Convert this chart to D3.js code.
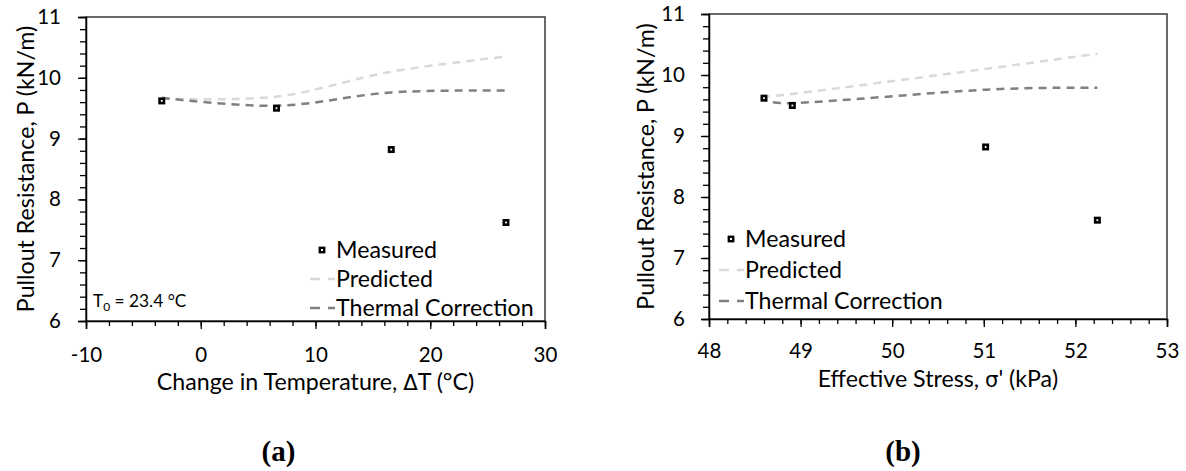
<!DOCTYPE html>
<html>
<head>
<meta charset="utf-8">
<script src="https://cdn.jsdelivr.net/npm/d3@7/dist/d3.min.js"></script>
<style>
  html, body { margin: 0; padding: 0; background: #fff; }
  svg { display: block; }
</style>
</head>
<body>
<svg id="chart" width="1186" height="471"></svg>
<script>
// Pullout tests at 20, 30, 40 and 50 °C (T0 = 23.4 °C)
const deltaT = [-3.4, 6.6, 16.6, 26.6];            // change in temperature, °C
const effStress = [48.6, 48.91, 51.02, 52.24];     // effective stress, kPa
const measured = [9.62, 9.50, 8.82, 7.62];         // kN/m
const predicted = [9.66, 9.69, 10.10, 10.35];      // kN/m
const thermalCorrection = [9.67, 9.54, 9.76, 9.79];// kN/m

const yTicks = [6, 7, 8, 9, 10, 11];
const xTicksA = [-10, 0, 10, 20, 30];
const xTicksB = [48, 49, 50, 51, 52, 53];
const seriesNames = ["Measured", "Predicted", "Thermal Correction"];

const SANS = "Lato, 'Open Sans', sans-serif";
const SERIF = "'Liberation Serif', 'Times New Roman', serif";
const svg = d3.select("#chart");

const panels = [
  {
    x: deltaT, xDomain: [-10, 30], xTicks: xTicksA, xMinor: 2,
    box: { left: 86, right: 545, top: 17, bottom: 321 },
    xTitle: ["Change in Temperature, ", "\u0394", "T (\u00B0C)"],
    yTitleX: 34, xTitleY: 390, tickLabelY: 362, yPad: 17,
    legend: { x: 322, y: 250, step: 29 },
    note: true, tag: "(a)", tagX: 278.5
  },
  {
    x: effStress, xDomain: [48, 53], xTicks: xTicksB, xMinor: 0.2,
    box: { left: 709, right: 1167, top: 14, bottom: 319 },
    xTitle: ["Effective Stress, ", "\u03C3", "' (kPa)"],
    yTitleX: 654, xTitleY: 387, tickLabelY: 358, yPad: 16,
    legend: { x: 731, y: 239, step: 31 },
    note: false, tag: "(b)", tagX: 903
  }
];

const fontTick = 20.5, fontTitle = 23.2, fontLegend = 23.2;
const fmt = d => String(d); // plain hyphen for negatives

panels.forEach(p => {
  const b = p.box;
  const xs = d3.scaleLinear().domain(p.xDomain).range([b.left, b.right]);
  const ys = d3.scaleLinear().domain([6, 11]).range([b.bottom, b.top]);
  const g = svg.append("g").style("font-family", SANS);

  // plot frame
  g.append("rect")
    .attr("x", b.left).attr("y", b.top)
    .attr("width", b.right - b.left).attr("height", b.bottom - b.top)
    .attr("fill", "none").attr("stroke", "#3a3a3a").attr("stroke-width", 1.5);

  // y axis with minor ticks every 0.2
  const yMinor = d3.range(6, 11.0001, 0.2);
  g.append("g").attr("transform", `translate(${b.left},0)`)
    .call(d3.axisLeft(ys).tickValues(yMinor).tickSize(6).tickFormat(""))
    .call(s => s.select(".domain").remove());
  const ya = g.append("g").attr("transform", `translate(${b.left},0)`)
    .call(d3.axisLeft(ys).tickValues(yTicks).tickSize(8).tickFormat(fmt).tickPadding(p.yPad));
  ya.select(".domain").attr("stroke", "#000").attr("stroke-width", 1.5);
  ya.selectAll("text").style("font-size", fontTick + "px").style("font-family", SANS).attr("fill", "#000");

  // x axis
  const xMinorVals = d3.range(p.xDomain[0], p.xDomain[1] + 1e-6, p.xMinor);
  g.append("g").attr("transform", `translate(0,${b.bottom})`)
    .call(d3.axisBottom(xs).tickValues(xMinorVals).tickSize(5).tickFormat(""))
    .call(s => s.select(".domain").remove());
  const xa = g.append("g").attr("transform", `translate(0,${b.bottom})`)
    .call(d3.axisBottom(xs).tickValues(p.xTicks).tickSize(8).tickFormat(fmt));
  xa.select(".domain").attr("stroke", "#000").attr("stroke-width", 1.5);
  xa.selectAll("text").style("font-size", fontTick + "px").style("font-family", SANS).attr("fill", "#000")
    .attr("dy", null).attr("y", p.tickLabelY - b.bottom);
  g.selectAll(".tick line").attr("stroke", "#000").attr("stroke-width", 1.3);

  // axis titles
  const xt = g.append("text")
    .attr("x", (b.left + b.right) / 2).attr("y", p.xTitleY)
    .attr("text-anchor", "middle").style("font-size", fontTitle + "px");
  xt.append("tspan").text(p.xTitle[0]);
  xt.append("tspan").style("font-family", "'DejaVu Sans', sans-serif")
    .style("font-size", (fontTitle - 2) + "px").text(p.xTitle[1]);
  xt.append("tspan").text(p.xTitle[2]);

  g.append("text")
    .attr("transform", `translate(${p.yTitleX},${(b.top + b.bottom) / 2}) rotate(-90)`)
    .attr("text-anchor", "middle").style("font-size", fontTitle + "px")
    .text("Pullout Resistance, P (kN/m)");

  // smoothed model curves
  const idx = d3.range(p.x.length);
  const line = vals => d3.line()
    .x(i => xs(p.x[i])).y(i => ys(vals[i]))
    .curve(d3.curveCardinal.tension(0))(idx);

  g.append("path").attr("d", line(predicted))
    .attr("fill", "none").attr("stroke", "#d9d9d9").attr("stroke-width", 2.5)
    .attr("stroke-dasharray", "8,6");
  g.append("path").attr("d", line(thermalCorrection))
    .attr("fill", "none").attr("stroke", "#808080").attr("stroke-width", 2.5)
    .attr("stroke-dasharray", "8,6");

  // measured points
  g.selectAll("rect.pt").data(idx).join("rect").attr("class", "pt")
    .attr("x", i => xs(p.x[i]) - 2.2).attr("y", i => ys(measured[i]) - 2.2)
    .attr("width", 4.4).attr("height", 4.4)
    .attr("fill", "#fff").attr("stroke", "#000").attr("stroke-width", 2.6);

  // legend
  const L = p.legend;
  const lg = g.append("g");
  lg.append("rect").attr("x", L.x - 2.2).attr("y", L.y - 2.2).attr("width", 4.4).attr("height", 4.4)
    .attr("fill", "#fff").attr("stroke", "#000").attr("stroke-width", 2.4);
  [["#d9d9d9", 1], ["#808080", 2]].forEach(([c, k]) => {
    lg.append("line")
      .attr("x1", L.x - 12).attr("x2", L.x + 13)
      .attr("y1", L.y + k * L.step).attr("y2", L.y + k * L.step)
      .attr("stroke", c).attr("stroke-width", 2.5).attr("stroke-dasharray", "10,8");
  });
  seriesNames.forEach((n, k) => {
    lg.append("text").attr("x", L.x + 14).attr("y", L.y + k * L.step)
      .attr("dy", "0.35em").style("font-size", fontLegend + "px").text(n);
  });

  if (p.note) {
    const t = g.append("text").attr("x", b.left + 7).attr("y", b.bottom - 14).style("font-size", "17.3px");
    t.append("tspan").text("T");
    t.append("tspan").style("font-size", "12px").attr("dy", 4).text("0");
    t.append("tspan").attr("dy", -4).text(" = 23.4 \u00B0C");
  }

  g.append("text").attr("x", p.tagX).attr("y", 461)
    .attr("text-anchor", "middle")
    .style("font-family", SERIF).style("font-weight", "bold").style("font-size", "29px")
    .text(p.tag);
});
</script>
</body>
</html>
